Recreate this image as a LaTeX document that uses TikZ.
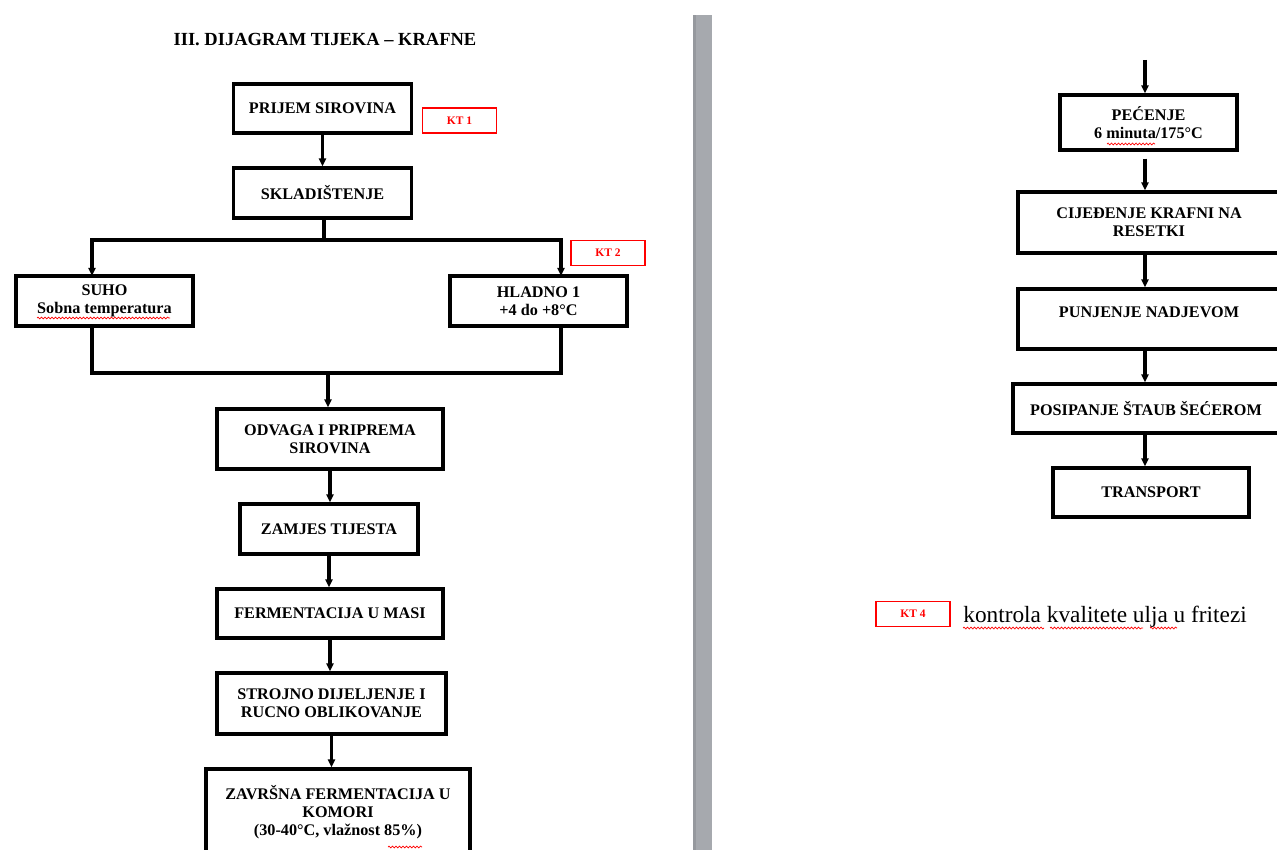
\documentclass[tikz,border=0pt]{standalone}
\usepackage{fontspec}
\setmainfont{Liberation Serif}
\usetikzlibrary{arrows.meta,decorations.pathmorphing}

\definecolor{sepgray}{RGB}{166,169,174}
\definecolor{sepdark}{RGB}{150,153,158}

\begin{document}
\begin{tikzpicture}[
        x=1pt, y=-1pt,
        thick,
        box/.style={rectangle, draw, line width=3.1pt, inner sep=0pt, align=center, font=\bfseries\fontsize{16.2}{18}\selectfont},
        kt/.style={rectangle, draw=red, line width=1.3pt, text=red, inner sep=0pt, minimum width=74pt, minimum height=25pt, font=\bfseries\fontsize{11.5}{13}\selectfont},
        arrow/.style={-{Triangle[length=8pt,width=7pt]}, line width=3.1pt},
        line/.style={line width=3.1pt, line join=miter},
        spell/.style={red, line width=0.7pt, decorate, decoration={snake, amplitude=0.9pt, segment length=3.5pt}}
    ]

        % Page area
        \clip (0,0) rectangle (1277,850);
        \fill[white] (0,0) rectangle (1277,850);
        \fill[sepgray] (693,15) rectangle (712,850);
        \fill[sepdark] (693,15) rectangle (696,850);

        % Title
        \node[font=\bfseries\fontsize{18.5}{20}\selectfont] (title) at (325,40) {III. DIJAGRAM TIJEKA – KRAFNE};

        % Reception and storage
        \node[box, minimum width=178pt, minimum height=49pt] (prijem) at (322.5,108.5) {PRIJEM SIROVINA};
        \node[kt] (kt1) at (459.5,120.5) {KT 1};
        \node[box, minimum width=178pt, minimum height=50pt] (sklad) at (322.5,193) {SKLADIŠTENJE};
        \draw[arrow] (prijem.south) -- (sklad.north);

        % Storage branches
        \node[box, minimum width=177pt, minimum height=50pt] (suho) at (104.5,301) {SUHO\\Sobna temperatura};
        \node[box, minimum width=177pt, minimum height=50pt] (hladno) at (538.5,301) {HLADNO 1\\+4 do +8°C};
        \node[kt] (kt2) at (608,253) {KT 2};
        \coordinate (split) at (324,240);
        \coordinate (suhoin) at (92,276);
        \coordinate (hladin) at (561,276);
        \draw[line] (sklad.south -| split) -- (split);
        \draw[arrow] (split) -| (suhoin);
        \draw[arrow] (split) -| (hladin);

        % Join of branches
        \coordinate (merge) at (328,373);
        \draw[line] (suho.south -| suhoin) -- (suhoin |- merge) -- (hladin |- merge) -- (hladno.south -| hladin);

        % Dough preparation
        \node[box, minimum width=226pt, minimum height=60pt] (odvaga) at (330,439) {ODVAGA I PRIPREMA\\SIROVINA};
        \node[box, minimum width=178pt, minimum height=50pt] (zamjes) at (329,529) {ZAMJES TIJESTA};
        \node[box, minimum width=226pt, minimum height=49pt] (masa) at (330,613.5) {FERMENTACIJA U MASI};
        \node[box, minimum width=229pt, minimum height=61pt] (strojno) at (331.5,703.5) {STROJNO DIJELJENJE I\\RUCNO OBLIKOVANJE};
        \node[box, minimum width=264pt, minimum height=86pt] (zavrsna) at (338,812) {ZAVRŠNA FERMENTACIJA U\\KOMORI\\(30-40°C, vlažnost 85\%)};

        \draw[arrow] (merge) -- (merge |- odvaga.north);
        \draw[arrow] (odvaga.south) -- (odvaga.south |- zamjes.north);
        \draw[arrow] (zamjes.south) -- (zamjes.south |- masa.north);
        \draw[arrow] (masa.south) -- (masa.south |- strojno.north);
        \draw[arrow] (strojno.south) -- (strojno.south |- zavrsna.north);

        % Second page
        \coordinate (cont) at (1145,60);
        \node[box, minimum width=177pt, minimum height=55pt] (pecenje) at (1148.5,122.5) {PEĆENJE\\6 minuta/175°C};
        \node[box, minimum width=262pt, minimum height=61pt] (cijedenje) at (1149,222.5) {CIJEĐENJE KRAFNI NA\\RESETKI};
        \node[box, minimum width=262pt, minimum height=60pt, text depth=14pt] (punjenje) at (1149,319) {PUNJENJE NADJEVOM};
        \node[box, minimum width=266pt, minimum height=49pt] (posipanje) at (1146,408.5) {POSIPANJE ŠTAUB ŠEĆEROM};
        \node[box, minimum width=196pt, minimum height=49pt] (transport) at (1151,492.5) {TRANSPORT};

        \draw[arrow] (cont) -- (cont |- pecenje.north);
        \draw[arrow, shorten <=7pt] (pecenje.south -| cont) -- (cijedenje.north -| cont);
        \draw[arrow] (cijedenje.south -| cont) -- (punjenje.north -| cont);
        \draw[arrow] (punjenje.south -| cont) -- (posipanje.north -| cont);
        \draw[arrow] (posipanje.south -| cont) -- (transport.north -| cont);

        % Legend
        \node[kt] (kt4) at (913,614) {KT 4};
        \node[anchor=base west, inner sep=0pt, font=\fontsize{23.3}{26}\selectfont] (ktnote) at (963,622) {kontrola kvalitete ulja u fritezi};

        % Spelling marks
        \draw[spell] (37,318) -- (170,318);
        \draw[spell] (1107,144) -- (1155,144);
        \draw[spell] (388,847) -- (422,847);
        \draw[spell] (963,628) -- (1044,628);
        \draw[spell] (1050,628) -- (1143,628);
        \draw[spell] (1150,628) -- (1177,628);

    \end{tikzpicture}
\end{document}
